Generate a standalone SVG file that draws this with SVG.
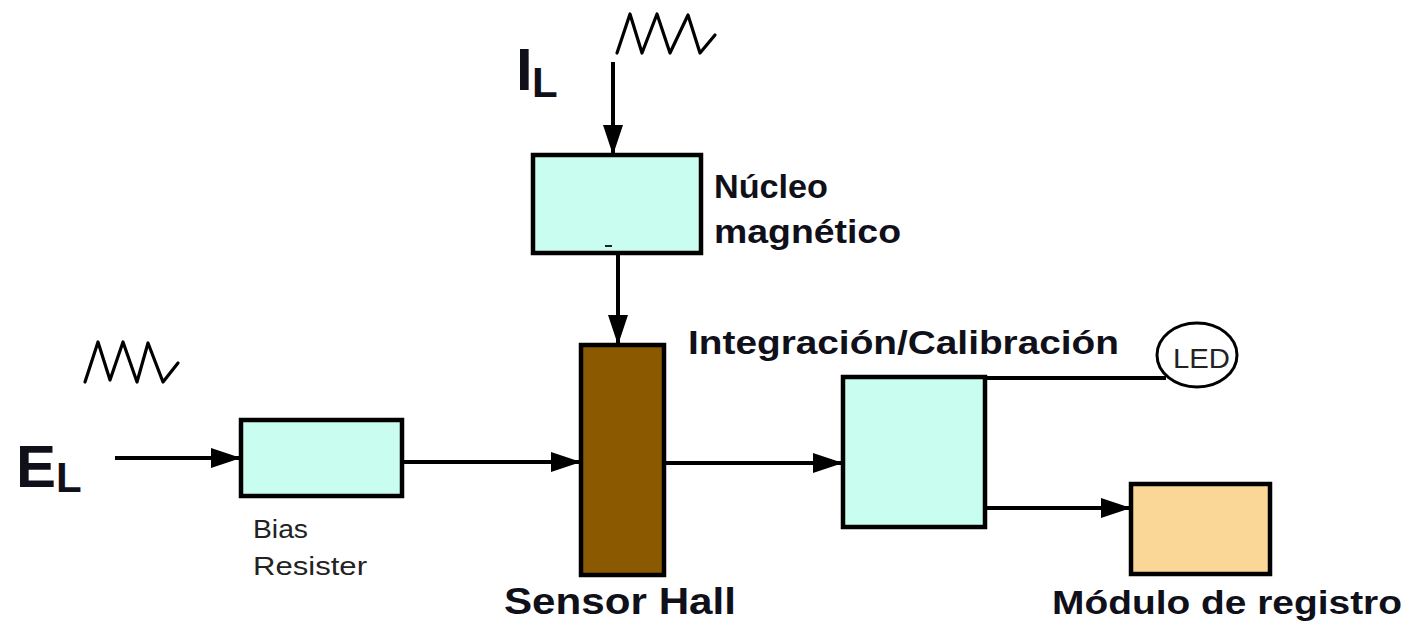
<svg xmlns="http://www.w3.org/2000/svg" width="1420" height="625" viewBox="0 0 1420 625">
<style>
.box{stroke:#000;stroke-width:4.5}
.cyan{fill:#C8FDEF}
.lbl{font-family:"Liberation Sans",Arial,sans-serif;font-weight:bold;fill:#10101a}
.sm{font-family:"Liberation Sans",Arial,sans-serif;fill:#222}
.wire{stroke:#000;stroke-width:4;fill:none}
.zig{stroke:#000;stroke-width:3.2;fill:none;stroke-linejoin:round;stroke-linecap:round}
</style>
<defs>
<marker id="ah" markerUnits="userSpaceOnUse" markerWidth="32" markerHeight="22" refX="30" refY="10" orient="auto">
<path d="M0,0 L30,10 L0,20 Z" fill="#000"/>
</marker>
</defs>
<rect width="1420" height="625" fill="#fff"/>
<g id="signals">
<polyline class="zig" points="617,53 630,14 642,53 657,14 670,53 688,15 700,53 715,35"/>
<polyline class="zig" points="85,382 98,342 110,380 123,342 137,382 148,343 163,382 178,363"/>
<text class="lbl" x="516" y="90" font-size="60">I</text>
<text class="lbl" x="532" y="97" font-size="42">L</text>
<text class="lbl" x="16" y="487" font-size="60">E</text>
<text class="lbl" x="56" y="492" font-size="42">L</text>
</g>
<g id="connectors">
<line class="wire" x1="613" y1="62" x2="613" y2="155" marker-end="url(#ah)"/>
<line class="wire" x1="618" y1="253" x2="618" y2="345" marker-end="url(#ah)"/>
<line class="wire" x1="115" y1="458" x2="241" y2="458" marker-end="url(#ah)"/>
<line class="wire" x1="402" y1="462" x2="581" y2="462" marker-end="url(#ah)"/>
<line class="wire" x1="663" y1="463" x2="843" y2="463" marker-end="url(#ah)"/>
<line class="wire" x1="985" y1="378" x2="1166" y2="378"/>
<line class="wire" x1="985" y1="508" x2="1131" y2="508" marker-end="url(#ah)"/>
</g>
<g id="nucleo">
<rect class="box cyan" x="533" y="155" width="168" height="98"/>
<line x1="605" y1="246" x2="612" y2="246" stroke="#222" stroke-width="2"/>
<text class="lbl" x="714" y="198" font-size="33" textLength="114" lengthAdjust="spacingAndGlyphs">Núcleo</text>
<text class="lbl" x="714" y="243" font-size="33" textLength="187" lengthAdjust="spacingAndGlyphs">magnético</text>
</g>
<g id="sensor">
<rect class="box" x="581" y="345" width="83" height="230" fill="#8B5A00"/>
<text class="lbl" x="504" y="614" font-size="36" textLength="232" lengthAdjust="spacingAndGlyphs">Sensor Hall</text>
</g>
<g id="bias">
<rect class="box cyan" x="241" y="420" width="161" height="76"/>
<text class="sm" x="253" y="538" font-size="26" textLength="55" lengthAdjust="spacingAndGlyphs">Bias</text>
<text class="sm" x="253" y="575" font-size="26" textLength="114" lengthAdjust="spacingAndGlyphs">Resister</text>
</g>
<g id="integracion">
<rect class="box cyan" x="843" y="377" width="142" height="150"/>
<text class="lbl" x="688" y="354" font-size="34" textLength="431" lengthAdjust="spacingAndGlyphs">Integración/Calibración</text>
</g>
<g id="led">
<ellipse cx="1197" cy="355" rx="40" ry="32" fill="#fff" stroke="#000" stroke-width="3"/>
<text class="sm" x="1173" y="368" font-size="27" textLength="57" lengthAdjust="spacingAndGlyphs" fill="#10101a">LED</text>
</g>
<g id="modulo">
<rect class="box" x="1131" y="484" width="139" height="90" fill="#FAD796"/>
<text class="lbl" x="1052" y="614" font-size="34" textLength="350" lengthAdjust="spacingAndGlyphs">Módulo de registro</text>
</g>
</svg>
